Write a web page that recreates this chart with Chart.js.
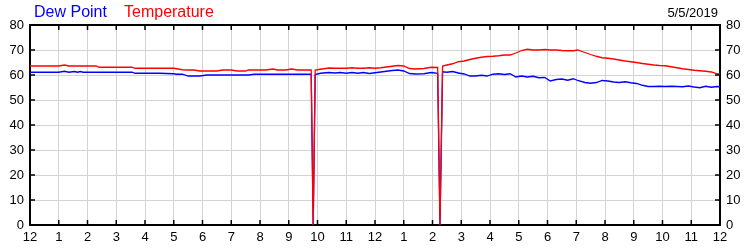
<!DOCTYPE html>
<html>
<head>
<meta charset="utf-8">
<script src="https://cdn.jsdelivr.net/npm/chart.js@4"></script>
<style>
  body { margin: 0; background: #fff; }
  #wrap { position: relative; width: 750px; height: 250px; font-family: "Liberation Sans", Arial, sans-serif; }
  .lbl { position: absolute; line-height: 1; white-space: nowrap; }
</style>
</head>
<body>
<div id="wrap">
  <canvas id="weatherChart" width="750" height="250"></canvas>
  <span class="lbl" style="left:34px; top:4px; font-size:16px; color:#0000ff;">Dew Point</span>
  <span class="lbl" style="left:124px; top:4px; font-size:16px; color:#ff0000;">Temperature</span>
  <span class="lbl" style="right:32px; top:6px; font-size:13px; color:#000;">5/5/2019</span>
</div>
<script>
// hour labels along the bottom (midnight to midnight)
const hourLabels = ['12', '1', '2', '3', '4', '5', '6', '7', '8', '9', '10', '11',
  '12', '1', '2', '3', '4', '5', '6', '7', '8', '9', '10', '11', '12'];

// sample times, hours since midnight
const hours = [0, 0.5, 1.0, 1.2, 1.35, 1.55, 1.65, 1.75, 1.85, 2.3, 2.4, 3.0, 3.55, 3.65, 4.0, 4.5,
  5.0, 5.1, 5.3, 5.5, 5.7, 5.9, 6.15, 6.5, 6.7, 7.0, 7.2, 7.5, 7.6, 7.8, 8.0, 8.2, 8.45, 8.6, 8.9,
  9.1, 9.3, 9.5, 9.78, 9.85, 9.92, 10.1, 10.4, 10.6, 10.8, 11.0, 11.2, 11.4, 11.6, 11.8, 12.0, 12.2,
  12.4, 12.6, 12.8, 13.0, 13.2, 13.4, 13.7, 13.95, 14.18, 14.26, 14.35, 14.5, 14.7, 14.9, 15.1,
  15.3, 15.5, 15.7, 15.9, 16.1, 16.3, 16.5, 16.7, 16.9, 17.1, 17.3, 17.5, 17.7, 17.9, 18.1, 18.3,
  18.5, 18.7, 18.9, 19.05, 19.3, 19.5, 19.7, 19.9, 20.1, 20.3, 20.5, 20.7, 20.9, 21.1, 21.3, 21.5,
  21.7, 21.9, 22.1, 22.3, 22.5, 22.7, 22.9, 23.1, 23.3, 23.5, 23.7, 23.9, 24.0];

const temperature = [63.6, 63.6, 63.6, 64.0, 63.6, 63.6, 63.6, 63.6, 63.6, 63.6, 63.1, 63.1, 63.1, 62.7, 62.7, 62.7,
  62.7, 62.5, 62.1, 62.0, 62.0, 61.6, 61.6, 61.6, 62.0, 62.0, 61.6, 61.6, 62.0, 62.0, 62.0, 62.0, 62.4, 62.0, 62.0,
  62.4, 62.0, 62.0, 62.0, 0, 62.0, 62.3, 62.8, 62.7, 62.7, 62.7, 62.9, 62.7, 62.7, 62.9, 62.7, 62.9,
  63.2, 63.5, 63.8, 63.6, 62.6, 62.4, 62.6, 63.1, 63.0, 0, 63.6, 64.0, 64.5, 65.3, 65.6,
  66.2, 66.7, 67.1, 67.4, 67.5, 67.7, 68.0, 68.0, 68.8, 69.8, 70.3, 70.0, 70.0, 70.2, 70.0, 70.0,
  69.8, 69.7, 69.7, 70.0, 69.0, 68.2, 67.5, 66.9, 66.7, 66.4, 66.0, 65.6, 65.3, 65.0, 64.6, 64.3,
  64.0, 63.8, 63.7, 63.3, 62.9, 62.5, 62.2, 61.9, 61.7, 61.5, 61.2, 60.5, 60.3];

const dewPoint = [61.1, 61.1, 61.1, 61.5, 61.1, 61.4, 61.1, 61.4, 61.1, 61.1, 61.1, 61.1, 61.1, 60.7, 60.7, 60.7,
  60.5, 60.3, 60.3, 59.6, 59.6, 59.6, 60.0, 60.0, 60.0, 60.0, 60.0, 60.0, 60.0, 60.3, 60.3, 60.3, 60.3, 60.3, 60.3,
  60.3, 60.3, 60.3, 60.3, 0, 60.2, 60.7, 61.0, 60.8, 61.0, 60.7, 61.0, 60.7, 61.0, 60.6, 60.9, 61.2,
  61.5, 61.8, 62.0, 61.6, 60.6, 60.4, 60.5, 61.0, 60.7, 0, 61.3, 61.1, 61.4, 60.8, 60.4,
  59.6, 59.6, 59.9, 59.6, 60.3, 60.5, 60.2, 60.5, 59.2, 59.6, 59.2, 59.5, 58.9, 59.0, 57.6, 58.2,
  58.4, 57.9, 58.5, 57.8, 57.0, 56.7, 57.0, 57.8, 57.6, 57.2, 57.0, 57.3, 56.9, 56.6, 55.9, 55.4,
  55.4, 55.5, 55.4, 55.5, 55.4, 55.3, 55.6, 55.2, 54.9, 55.5, 55.1, 55.4, 55.3];

const yMin = 0, yMax = 80, yStep = 10;

const toPoints = vals => hours.map((h, i) => ({ x: h, y: vals[i] }));

// short black tick marks drawn just inside the frame, on all four sides
const innerTicks = {
  id: 'innerTicks',
  afterDraw(chart) {
    const { ctx, chartArea: a, scales } = chart;
    const len = 5;
    ctx.save();
    ctx.strokeStyle = '#000';
    ctx.lineWidth = 1.5;
    ctx.beginPath();
    scales.x.ticks.forEach(t => {
      const px = scales.x.getPixelForValue(t.value);
      ctx.moveTo(px, a.bottom); ctx.lineTo(px, a.bottom - len);
      ctx.moveTo(px, a.top); ctx.lineTo(px, a.top + len);
    });
    scales.y.ticks.forEach(t => {
      const py = scales.y.getPixelForValue(t.value);
      ctx.moveTo(a.left, py); ctx.lineTo(a.left + len, py);
      ctx.moveTo(a.right, py); ctx.lineTo(a.right - len, py);
    });
    ctx.stroke();
    ctx.restore();
  }
};

const tickFont = { family: '"Liberation Sans", Arial, sans-serif', size: 13 };
const gridColor = '#d3d3d3';

new Chart(document.getElementById('weatherChart').getContext('2d'), {
  type: 'line',
  data: {
    datasets: [{
      label: 'Temperature',
      data: toPoints(temperature),
      borderColor: '#ff0000',
      borderWidth: 1.3,
      pointRadius: 0,
      tension: 0
    }, {
      label: 'Dew Point',
      data: toPoints(dewPoint),
      borderColor: '#0000ff',
      borderWidth: 1.3,
      pointRadius: 0,
      tension: 0
    }]
  },
  options: {
    responsive: false,
    animation: false,
    layout: { padding: 0 },
    plugins: { legend: { display: false }, tooltip: { enabled: false } },
    scales: {
      x: {
        type: 'linear', position: 'bottom', min: 0, max: 24,
        ticks: {
          stepSize: 1, autoSkip: false, maxRotation: 0, padding: 5,
          color: '#000', font: tickFont,
          callback: v => hourLabels[v]
        },
        grid: { color: gridColor, drawTicks: false },
        border: { color: '#000', width: 2 },
        afterFit: s => { s.height = 25; }
      },
      xTop: {
        type: 'linear', position: 'top', min: 0, max: 24,
        ticks: { display: false, stepSize: 1 },
        grid: { display: false, drawTicks: false },
        border: { color: '#000', width: 2 },
        afterFit: s => { s.height = 25; }
      },
      y: {
        position: 'left', min: yMin, max: yMax,
        ticks: { stepSize: yStep, padding: 6, color: '#000', font: tickFont },
        grid: { color: gridColor, drawTicks: false },
        border: { color: '#000', width: 2 },
        afterFit: s => { s.width = 30; }
      },
      y2: {
        position: 'right', min: yMin, max: yMax,
        ticks: { stepSize: yStep, padding: 6, color: '#000', font: tickFont },
        grid: { display: false, drawTicks: false },
        border: { color: '#000', width: 2 },
        afterFit: s => { s.width = 30; }
      }
    }
  },
  plugins: [innerTicks]
});
</script>
</body>
</html>
